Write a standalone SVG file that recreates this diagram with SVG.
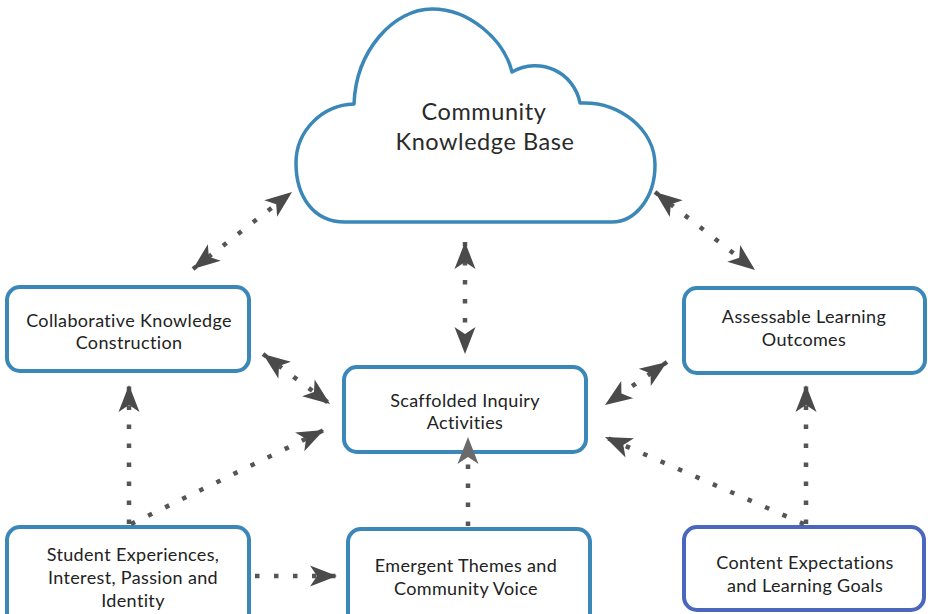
<svg xmlns="http://www.w3.org/2000/svg" width="928" height="614" viewBox="0 0 928 614">
  <style>
    .box { fill: #ffffff; stroke: #3a87b8; stroke-width: 4; }
    .box.goal { stroke: #4b66bd; }
    .cloud { fill: #ffffff; stroke: #3a87b8; stroke-width: 3.5; stroke-linejoin: round; }
    .lbl { font-family: Lato, "Open Sans", "Liberation Sans", sans-serif; font-weight: 400; font-size: 18px; fill: #222222; text-anchor: middle; letter-spacing: 0.35px; }
    .big { font-size: 23.5px; letter-spacing: 0.55px; fill: #2a2a2a; }
    .link { fill: none; stroke: #555555; stroke-width: 4.5; stroke-dasharray: 4.5 14.5; }
  </style>
  <defs>
    <marker id="head" markerUnits="userSpaceOnUse" viewBox="-28 -11 30 22" markerWidth="30" markerHeight="22" refX="0" refY="0" orient="auto-start-reverse">
      <path d="M0,0 L-27,-10.5 L-20,0 L-27,10.5 Z" fill="#4a4a4a"/>
    </marker>
    <marker id="headLight" markerUnits="userSpaceOnUse" viewBox="-28 -11 30 22" markerWidth="30" markerHeight="22" refX="0" refY="0" orient="auto-start-reverse">
      <path d="M0,0 L-27,-10.5 L-20,0 L-27,10.5 Z" fill="#6a6a6a"/>
    </marker>
  </defs>

  <!-- cloud -->
  <g id="community-knowledge-base">
    <path class="cloud" d="M345,222 C313,222 296,196 296,163 C296,131 322,105 354,104 C356,50 394,9 432,9 C470,9 504,40 512,72 C540,56 574,72 580,103 C620,101 655,130 655,165 C655,198 635,222 612,222 Z"/>
    <text class="lbl big" x="484" y="120">Community</text>
    <text class="lbl big" x="485" y="150">Knowledge Base</text>
  </g>

  <g id="collaborative-knowledge-construction">
    <rect class="box" x="7" y="287" width="242" height="84" rx="13"/>
    <text class="lbl" x="129" y="327">Collaborative Knowledge</text>
    <text class="lbl" x="129" y="349">Construction</text>
  </g>

  <g id="assessable-learning-outcomes">
    <rect class="box" x="684" y="288" width="241" height="85" rx="13"/>
    <text class="lbl" x="804" y="323">Assessable Learning</text>
    <text class="lbl" x="804" y="346">Outcomes</text>
  </g>

  <g id="scaffolded-inquiry-activities">
    <rect class="box" x="344" y="367" width="242" height="85" rx="13"/>
    <text class="lbl" x="465" y="407">Scaffolded Inquiry</text>
    <text class="lbl" x="465" y="429">Activities</text>
  </g>

  <g id="student-experiences">
    <rect class="box" x="7" y="527" width="242" height="100" rx="13"/>
    <text class="lbl" x="133" y="561">Student Experiences,</text>
    <text class="lbl" x="133" y="584">Interest, Passion and</text>
    <text class="lbl" x="133" y="607">Identity</text>
  </g>

  <g id="emergent-themes">
    <rect class="box" x="348" y="529" width="242" height="100" rx="13"/>
    <text class="lbl" x="466" y="572">Emergent Themes and</text>
    <text class="lbl" x="466" y="595">Community Voice</text>
  </g>

  <g id="content-expectations">
    <rect class="box goal" x="684" y="527" width="240" height="83" rx="13"/>
    <text class="lbl" x="805" y="569">Content Expectations</text>
    <text class="lbl" x="805" y="592">and Learning Goals</text>
  </g>

  <!-- connectors -->
  <g id="connectors">
    <line class="link" x1="193" y1="269" x2="292" y2="192" marker-start="url(#head)" marker-end="url(#head)"/>
    <line class="link" x1="465" y1="242" x2="465" y2="354" marker-start="url(#head)" marker-end="url(#head)"/>
    <line class="link" x1="655" y1="192" x2="755" y2="270" marker-start="url(#head)" marker-end="url(#head)"/>
    <line class="link" x1="263" y1="354" x2="330" y2="404" marker-start="url(#head)" marker-end="url(#head)"/>
    <line class="link" x1="667" y1="362" x2="605" y2="405" marker-start="url(#head)" marker-end="url(#head)"/>
    <line class="link" x1="129" y1="524" x2="129" y2="385" marker-end="url(#head)"/>
    <line class="link" x1="131" y1="524" x2="324" y2="430" marker-end="url(#head)"/>
    <line class="link" x1="255" y1="576" x2="337" y2="576" marker-end="url(#head)"/>
    <line class="link" x1="468" y1="526" x2="468" y2="437" marker-end="url(#headLight)"/>
    <line class="link" x1="804" y1="524" x2="605" y2="437" marker-end="url(#head)"/>
    <line class="link" x1="806" y1="524" x2="806" y2="385" marker-end="url(#head)"/>
  </g>
</svg>
